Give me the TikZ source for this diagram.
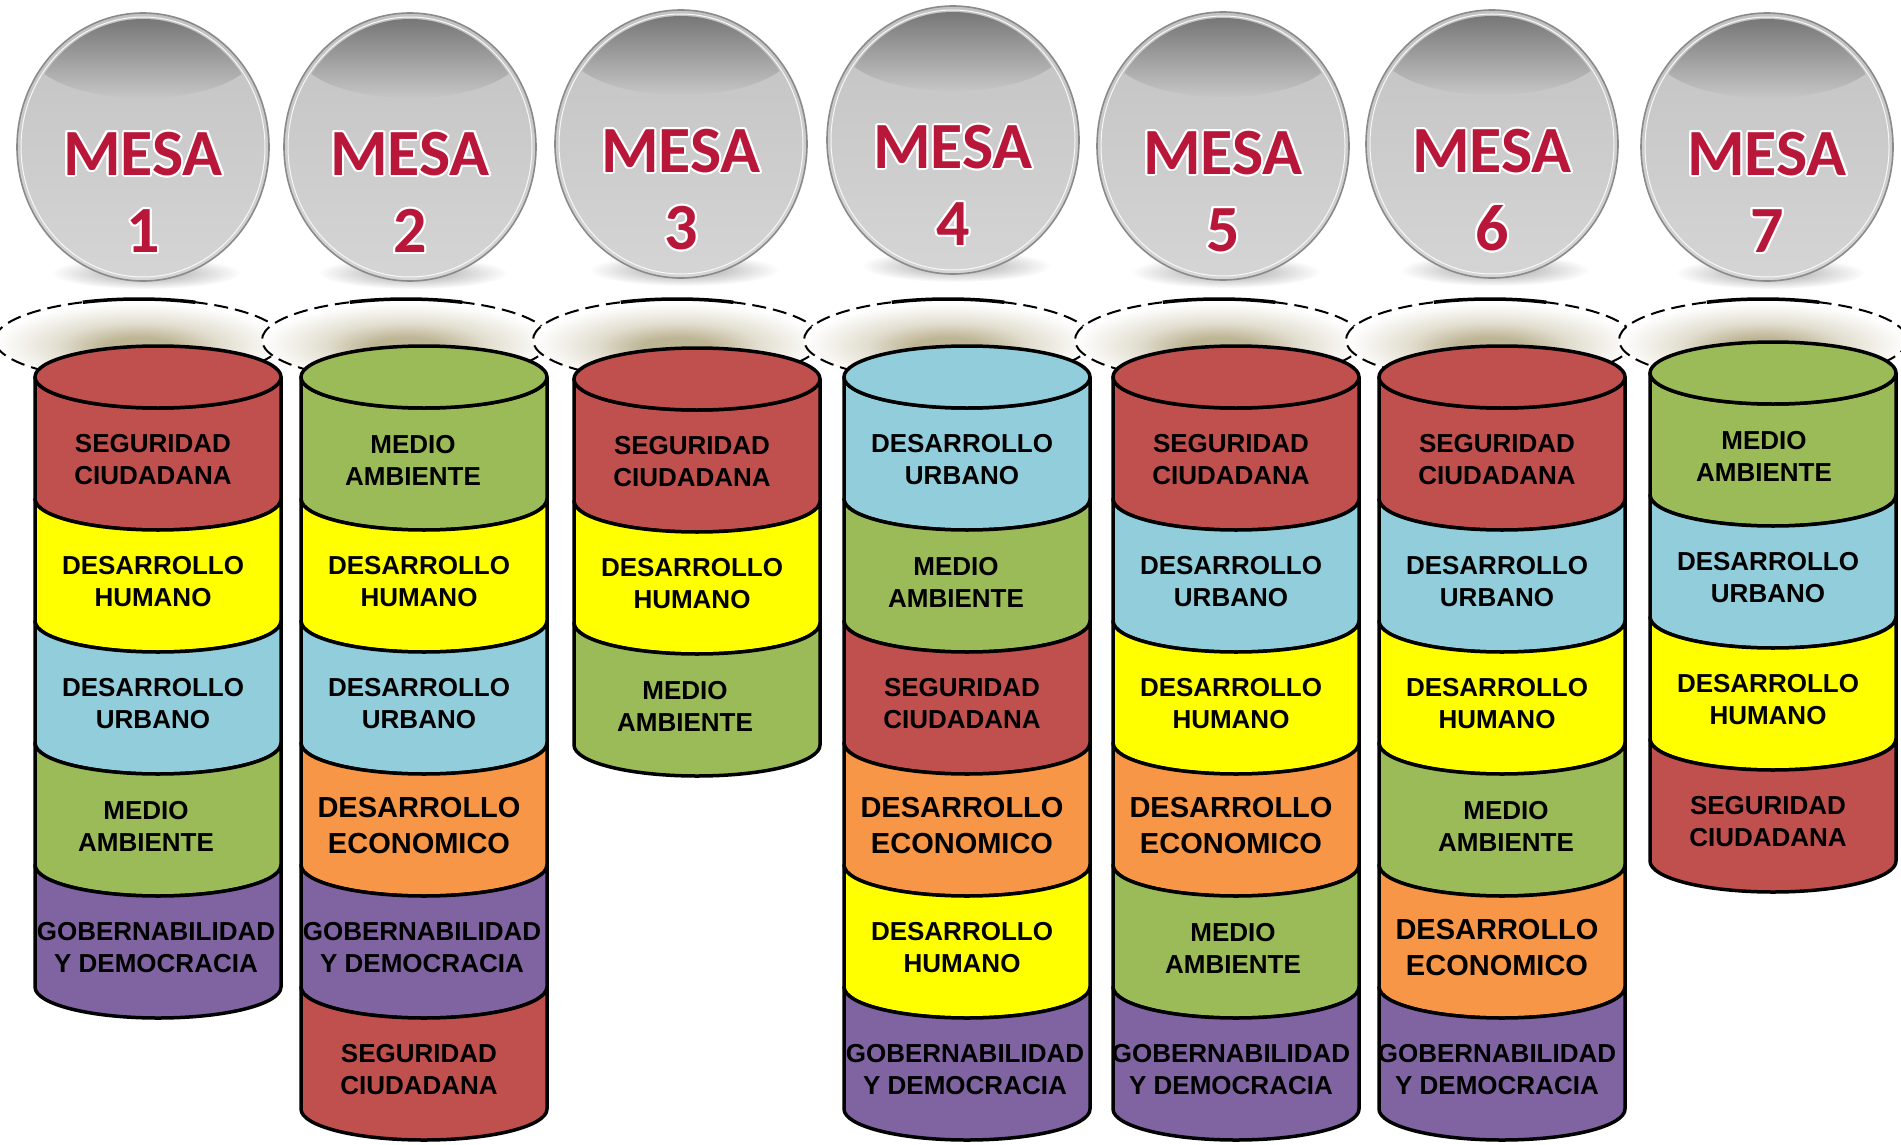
\documentclass[tikz,border=0pt]{standalone}
\usepackage{fontspec}
\setmainfont{Liberation Sans}
\newfontfamily\mesafont{Carlito}
\usepackage[copies]{contour}
\contourlength{2pt}
\usepackage{tikz}

\definecolor{rojo}{HTML}{C0504D}
\definecolor{verde}{HTML}{9BBB59}
\definecolor{amarillo}{HTML}{FFFF00}
\definecolor{celeste}{HTML}{92CDDC}
\definecolor{naranja}{HTML}{F79646}
\definecolor{morado}{HTML}{8064A2}
\definecolor{carmesi}{HTML}{B8173A}
\definecolor{arena}{HTML}{BEB595}
\definecolor{grisborde}{HTML}{8A8A8A}
\definecolor{grisclaro}{HTML}{D5D5D5}
\definecolor{grismedio}{HTML}{C2C2C2}
\definecolor{grisbrillo}{HTML}{C6C6C6}
\definecolor{grisoscuro}{HTML}{6A6A6A}
\definecolor{grissombra}{HTML}{A0A0A0}

\pgfdeclareradialshading{aura}{\pgfpoint{0bp}{-5bp}}{color(0bp)=(arena); color(6bp)=(arena); color(14bp)=(arena!45!white); color(25bp)=(white); color(50bp)=(white)}
\pgfdeclareradialshading{sombra}{\pgfpoint{0bp}{0bp}}{color(0bp)=(grissombra); color(25bp)=(white); color(50bp)=(white)}

\tikzset{
  borde/.style={draw=black, line width=3.5pt, line join=round},
  rotulo/.style={align=center, inner sep=0pt, xshift=-5pt,
    font=\fontsize{26}{32}\selectfont\bfseries},
  grande/.style={font=\fontsize{29}{36}\selectfont\bfseries},
  bola/.style={draw=grisborde, line width=1.6pt, top color=grismedio, bottom color=grisclaro},
  brillo/.style={top color=grisoscuro, bottom color=grisbrillo},
  titulo/.style={inner sep=0pt, text=carmesi, font=\mesafont\bfseries\fontsize{66}{70}\selectfont}
}

% mesa circle: name, x, y, number
\newcommand{\mesa}[4]{%
  \shade[shading=sombra] (#2+3,#3+126) ellipse[x radius=95, y radius=16];
  \draw[bola] (#2,#3) ellipse[x radius=126, y radius=134];
  \begin{scope}
    \clip (#2,#3) ellipse[x radius=120, y radius=128];
    \shade[brillo] (#2,#3-95) ellipse[x radius=112, y radius=46];
  \end{scope}
  \draw[white!80!grisclaro, line width=1pt] (#2,#3) ellipse[x radius=122, y radius=130];
  \node[titulo] (#1) at (#2,#3+8) {\contour{white}{MESA}};
  \node[titulo] (#1n) at (#2,#3+85) {\contour{white}{#4}};
}
% dashed aura above a cylinder
\newcommand{\halo}[1]{%
  \shade[shading=aura] (#1,340) ellipse[x radius=144, y radius=41];
  \draw[line width=2pt, dash pattern=on 14pt off 7pt] (#1,340) ellipse[x radius=144, y radius=41];
  \draw[line width=3.5pt] (#1,340) ++(247:144 and 41) arc[start angle=247, end angle=293, x radius=144, y radius=41];
}
% one piece of a cylinder: [node opts] name, x, top y, colour, text
\newcommand{\tramo}[6][]{%
  \draw[borde, fill=#5] (#3-123,#4) arc[start angle=180, end angle=0, x radius=123, y radius=31]
    -- ++(0,122) arc[start angle=0, end angle=180, x radius=123, y radius=31] -- cycle;
  \node[rotulo, #1] (#2) at (#3,#4+83) {#6};
}
% top of a cylinder: x, y, colour
\newcommand{\tapa}[3]{%
  \draw[borde, fill=#3] (#1,#2) ellipse[x radius=123, y radius=31];
}

\begin{document}
\begin{tikzpicture}[x=1pt,y=-1pt]
\useasboundingbox (0,0) rectangle (1901,1145);

% the seven mesas
\mesa{mesa1}{143}{147}{1}
\mesa{mesa2}{410}{147}{2}
\mesa{mesa3}{681}{144}{3}
\mesa{mesa4}{953}{140}{4}
\mesa{mesa5}{1223}{146}{5}
\mesa{mesa6}{1492}{144}{6}
\mesa{mesa7}{1767}{147}{7}

\halo{139}
\halo{406}
\halo{677}
\halo{948}
\halo{1219}
\halo{1490}
\halo{1763}

% mesa 1
\tramo{c1a}{158}{377}{rojo}{SEGURIDAD\\CIUDADANA}
\tramo{c1b}{158}{499}{amarillo}{DESARROLLO\\HUMANO}
\tramo{c1c}{158}{621}{celeste}{DESARROLLO\\URBANO}
\tramo[xshift=-7pt]{c1d}{158}{743}{verde}{MEDIO\\AMBIENTE}
\tramo[xshift=3pt]{c1e}{158}{865}{morado}{GOBERNABILIDAD\\Y DEMOCRACIA}
\tapa{158}{377}{rojo}

% mesa 2
\tramo[xshift=-6pt]{c2a}{424}{377}{verde}{MEDIO\\AMBIENTE}
\tramo{c2b}{424}{499}{amarillo}{DESARROLLO\\HUMANO}
\tramo{c2c}{424}{621}{celeste}{DESARROLLO\\URBANO}
\tramo[grande]{c2d}{424}{743}{naranja}{DESARROLLO\\ECONOMICO}
\tramo[xshift=3pt]{c2e}{424}{865}{morado}{GOBERNABILIDAD\\Y DEMOCRACIA}
\tramo{c2f}{424}{987}{rojo}{SEGURIDAD\\CIUDADANA}
\tapa{424}{377}{verde}

% mesa 3
\tramo{c3a}{697}{379}{rojo}{SEGURIDAD\\CIUDADANA}
\tramo{c3b}{697}{501}{amarillo}{DESARROLLO\\HUMANO}
\tramo[xshift=-7pt]{c3c}{697}{623}{verde}{MEDIO\\AMBIENTE}
\tapa{697}{379}{rojo}

% mesa 4
\tramo{c4a}{967}{377}{celeste}{DESARROLLO\\URBANO}
\tramo[xshift=-6pt]{c4b}{967}{499}{verde}{MEDIO\\AMBIENTE}
\tramo{c4c}{967}{621}{rojo}{SEGURIDAD\\CIUDADANA}
\tramo[grande]{c4d}{967}{743}{naranja}{DESARROLLO\\ECONOMICO}
\tramo{c4e}{967}{865}{amarillo}{DESARROLLO\\HUMANO}
\tramo[xshift=3pt]{c4f}{967}{987}{morado}{GOBERNABILIDAD\\Y DEMOCRACIA}
\tapa{967}{377}{celeste}

% mesa 5
\tramo{c5a}{1236}{377}{rojo}{SEGURIDAD\\CIUDADANA}
\tramo{c5b}{1236}{499}{celeste}{DESARROLLO\\URBANO}
\tramo{c5c}{1236}{621}{amarillo}{DESARROLLO\\HUMANO}
\tramo[grande]{c5d}{1236}{743}{naranja}{DESARROLLO\\ECONOMICO}
\tramo[xshift=2pt]{c5e}{1236}{865}{verde}{MEDIO\\AMBIENTE}
\tramo{c5f}{1236}{987}{morado}{GOBERNABILIDAD\\Y DEMOCRACIA}
\tapa{1236}{377}{rojo}

% mesa 6
\tramo{c6a}{1502}{377}{rojo}{SEGURIDAD\\CIUDADANA}
\tramo{c6b}{1502}{499}{celeste}{DESARROLLO\\URBANO}
\tramo{c6c}{1502}{621}{amarillo}{DESARROLLO\\HUMANO}
\tramo[xshift=9pt]{c6d}{1502}{743}{verde}{MEDIO\\AMBIENTE}
\tramo[grande]{c6e}{1502}{865}{naranja}{DESARROLLO\\ECONOMICO}
\tramo{c6f}{1502}{987}{morado}{GOBERNABILIDAD\\Y DEMOCRACIA}
\tapa{1502}{377}{rojo}

% mesa 7
\tramo[xshift=-4pt]{c7a}{1773}{373}{verde}{MEDIO\\AMBIENTE}
\tramo{c7b}{1773}{495}{celeste}{DESARROLLO\\URBANO}
\tramo{c7c}{1773}{617}{amarillo}{DESARROLLO\\HUMANO}
\tramo{c7d}{1773}{739}{rojo}{SEGURIDAD\\CIUDADANA}
\tapa{1773}{373}{verde}
\end{tikzpicture}
\end{document}
